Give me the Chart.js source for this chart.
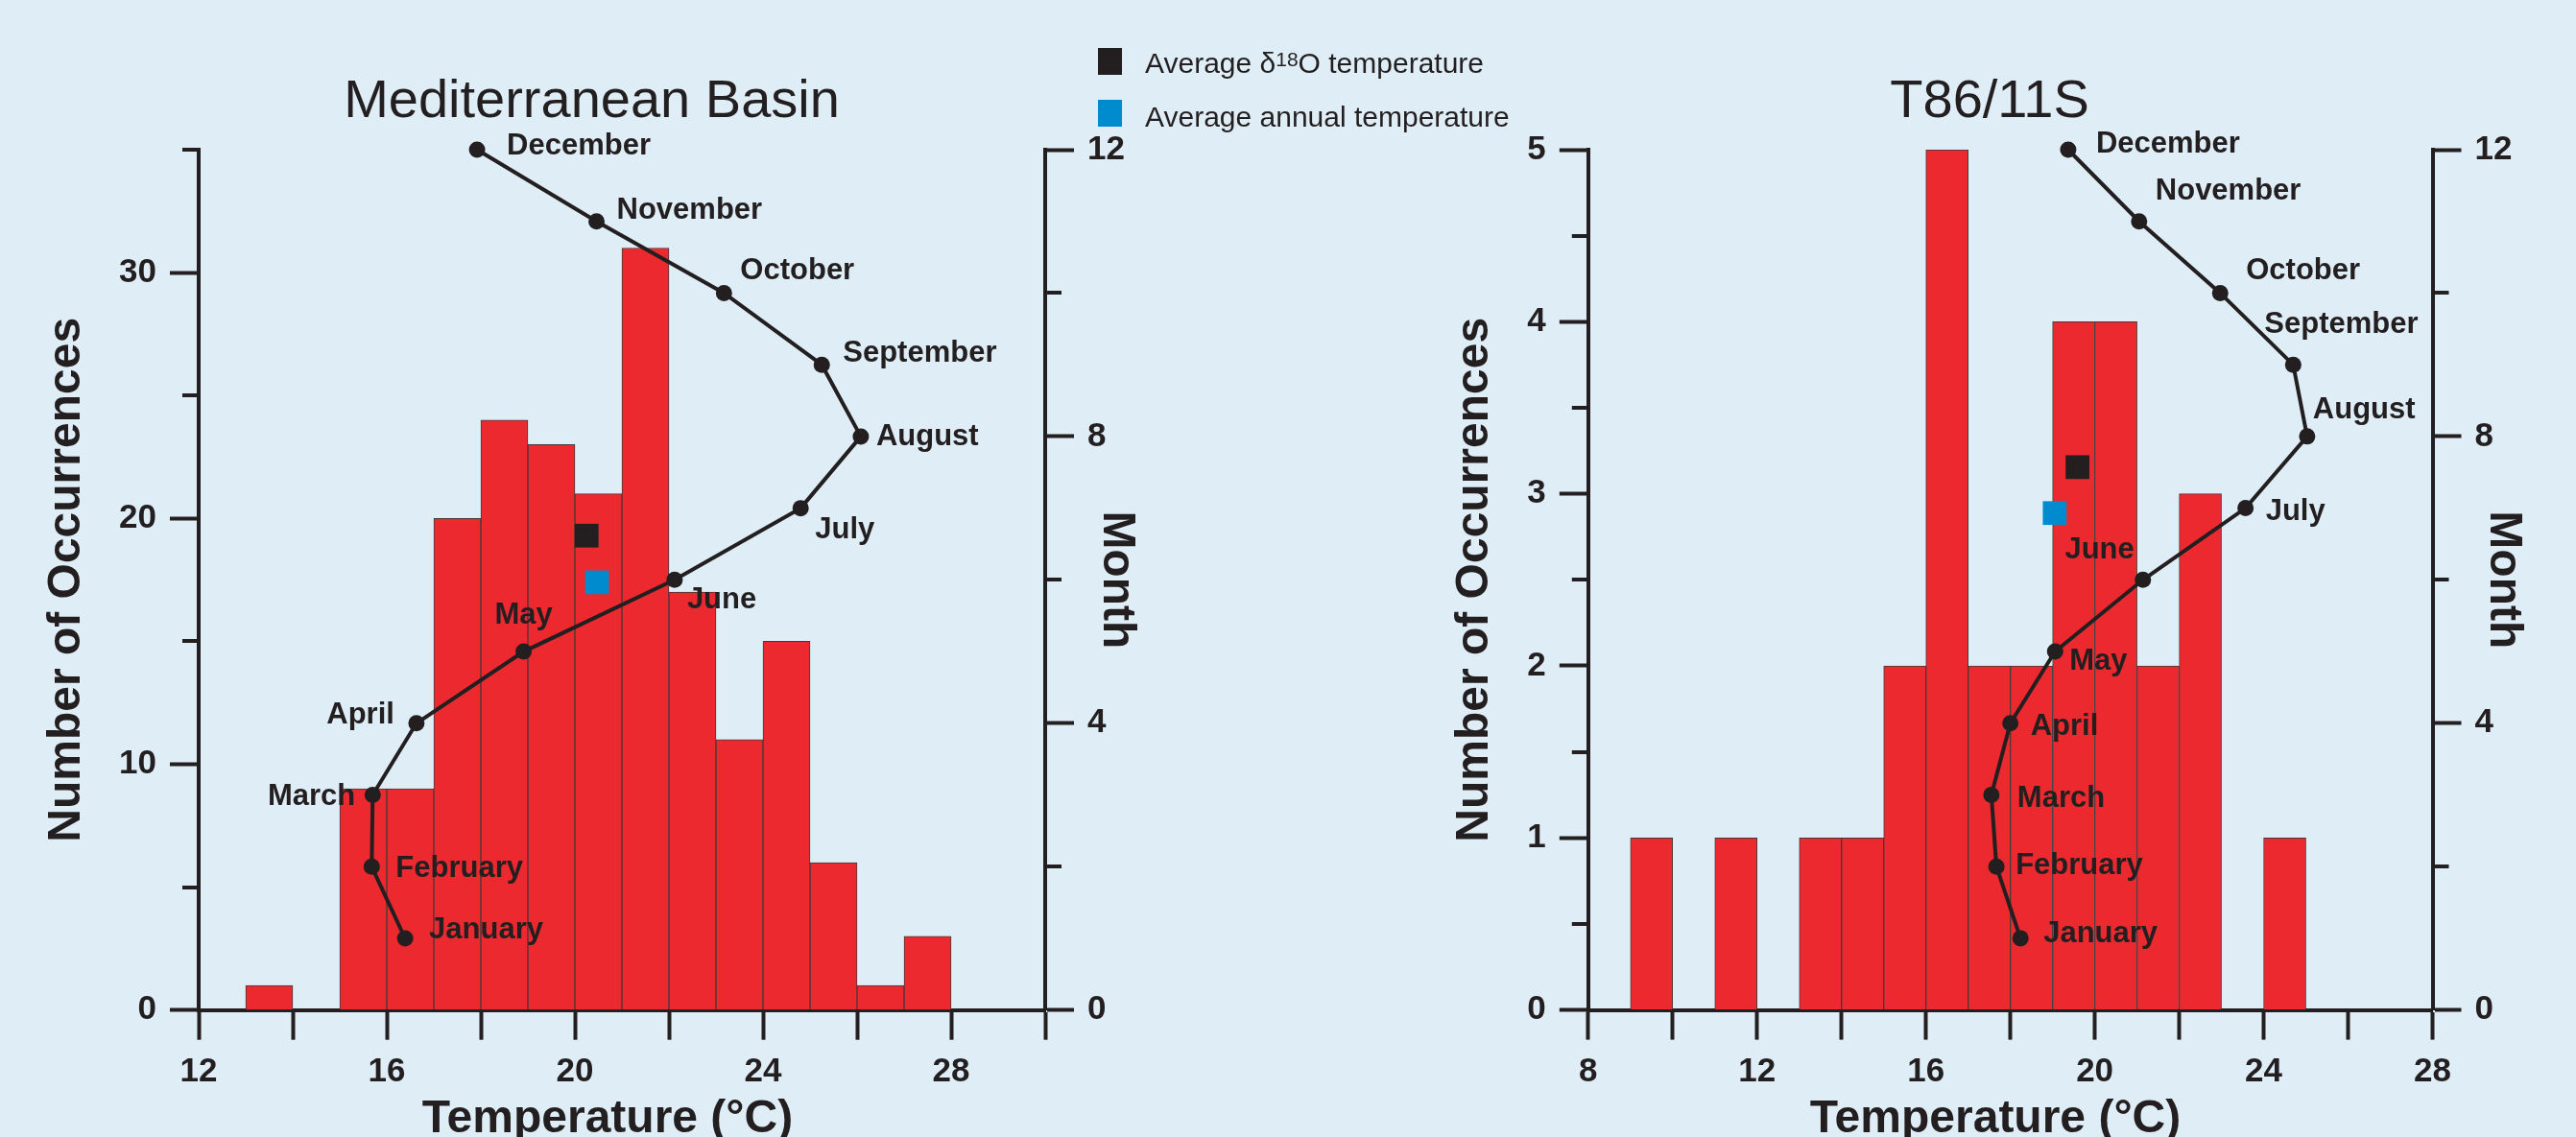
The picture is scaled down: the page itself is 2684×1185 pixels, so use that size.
<!DOCTYPE html>
<html>
<head>
<meta charset="utf-8">
<title>Temperature distributions - Mediterranean Basin and T86/11S</title>
<script src="https://cdn.jsdelivr.net/npm/chart.js@4.4.1/dist/chart.umd.min.js"></script>
<style>
    html, body { margin: 0; padding: 0; background: #dfeef6; }
    body {
        position: relative; width: 2684px; height: 1185px; overflow: hidden;
        font-family: "Liberation Sans", Arial, sans-serif; color: #231f20;
    }
    canvas { position: absolute; top: 0; }
    #chart-med { left: 0; }
    #chart-t86 { left: 1342px; }
    .key { position: absolute; width: 25px; height: 28px; }
    .key-text { position: absolute; font-size: 30px; line-height: 30px; white-space: nowrap; }
    .key-text sup { font-size: 21px; line-height: 0; vertical-align: baseline; position: relative; top: -7px; }
</style>
</head>
<body>
<canvas id="chart-med" width="1342" height="1185"></canvas>
<canvas id="chart-t86" width="1342" height="1185"></canvas>

<div class="key" style="left:1144px; top:50px; background:#231f20"></div>
<div class="key-text" style="left:1193px; top:51px">Average &delta;<sup>18</sup>O temperature</div>
<div class="key" style="left:1144px; top:104px; background:#008bce"></div>
<div class="key-text" style="left:1193px; top:107px">Average annual temperature</div>

<script>
// --- Data ---

const months     = ["January", "February", "March", "April", "May", "June",
                    "July", "August", "September", "October", "November", "December"];
const monthIndex = [1, 2, 3, 4, 5, 6, 7, 8, 9, 10, 11, 12];

// Mediterranean Basin histogram (1 degree bins, centres)
const medBinCentres  = [13.5, 14.5, 15.5, 16.5, 17.5, 18.5, 19.5, 20.5, 21.5, 22.5, 23.5, 24.5, 25.5, 26.5, 27.5];
const medCounts      = [1, 0, 9, 9, 20, 24, 23, 21, 31, 17, 11, 15, 6, 1, 3];
const medMonthTemps  = [16.39, 15.68, 15.70, 16.63, 18.91, 22.12, 24.80, 26.08, 25.25, 23.17, 20.46, 17.92];
const medD18O        = { x: 20.25, y: 19.3 };
const medAnnual      = { x: 20.47, y: 17.4 };

// T86/11S histogram
const t86BinCentres  = [9.5, 10.5, 11.5, 12.5, 13.5, 14.5, 15.5, 16.5, 17.5, 18.5, 19.5, 20.5, 21.5, 22.5, 23.5, 24.5];
const t86Counts      = [1, 0, 1, 0, 1, 1, 2, 5, 2, 2, 4, 4, 2, 3, 0, 1];
const t86MonthTemps  = [18.24, 17.67, 17.55, 18.00, 19.06, 21.14, 23.57, 25.03, 24.70, 22.97, 21.05, 19.37];
const t86D18O        = { x: 19.59, y: 3.155 };
const t86Annual      = { x: 19.05, y: 2.888 };

// Ticks
const medXTicks   = [12, 14, 16, 18, 20, 22, 24, 26, 28, 30];
const medXLabels  = [12, 16, 20, 24, 28];
const medYTicks   = [0, 10, 20, 30];
const medYMinor   = [5, 15, 25, 35];
const t86XTicks   = [8, 10, 12, 14, 16, 18, 20, 22, 24, 26, 28];
const t86XLabels  = [8, 12, 16, 20, 24, 28];
const t86YTicks   = [0, 1, 2, 3, 4, 5];
const t86YMinor   = [0.5, 1.5, 2.5, 3.5, 4.5];
const monthTicks  = [0, 4, 8, 12];
const monthMinor  = [2, 6, 10];

// --- Style ---

const INK    = "#231f20";
const RED    = "#ec292e";
const BLUE   = "#008bce";
const FAMILY = "'Liberation Sans', Arial, Helvetica, sans-serif";
const W = 1342, H = 1185;

// month label offsets from each point: [dx, dy, textAlign]
const medLabelPos = [
    [25, -9, "left"], [25, 2, "left"], [-18, 2, "right"], [-23, -8, "right"],
    [0, -38, "center"], [13, 21, "left"], [15, 23, "left"], [16, 1, "left"],
    [22, -12, "left"], [17, -23, "left"], [21, -11, "left"], [31, -4, "left"]
];
const t86LabelPos = [
    [24, -4, "left"], [20, -1, "left"], [27, 4, "left"], [21, 4, "left"],
    [15, 10, "left"], [-9, -31, "right"], [21, 4, "left"], [6, -27, "left"],
    [-30, -42, "left"], [27, -23, "left"], [17, -31, "left"], [29, -6, "left"]
];

Chart.defaults.font.family = FAMILY;
Chart.defaults.color = INK;

// --- Overlay: minor ticks, titles, month labels ---

function overlay(p) {
    return {
        id: "overlay",
        afterDraw(chart) {
            const { ctx, chartArea: a, scales } = chart;
            ctx.save();

            ctx.strokeStyle = INK;
            ctx.lineWidth = 4;
            p.minor.forEach(([axisId, values]) => {
                const s    = scales[axisId];
                const edge = s.position === "left" ? s.right : s.left;
                const dir  = s.position === "left" ? -1 : 1;
                values.forEach(v => {
                    const y = Math.round(s.getPixelForValue(v));
                    ctx.beginPath();
                    ctx.moveTo(edge, y);
                    ctx.lineTo(edge + dir * 17, y);
                    ctx.stroke();
                });
            });

            const mid = (a.left + a.right) / 2;
            ctx.fillStyle = INK;
            ctx.textAlign = "center";
            ctx.textBaseline = "alphabetic";
            ctx.font = `56px ${FAMILY}`;
            ctx.fillText(p.title, mid + p.titleShift, 122);
            ctx.font = `bold 48px ${FAMILY}`;
            ctx.fillText("Temperature (\u00b0C)", mid + p.xTitleShift, 1180);

            const pts = chart.getDatasetMeta(2).data;
            ctx.font = `bold 31px ${FAMILY}`;
            ctx.textBaseline = "middle";
            months.forEach((name, i) => {
                const [dx, dy, align] = p.labelPos[i];
                ctx.textAlign = align;
                ctx.fillText(name, pts[i].x + dx, pts[i].y + dy);
            });

            ctx.restore();
        }
    };
}

// --- Chart builder ---

function axisStyle(len) {
    return {
        grid:   { offset: false, drawOnChartArea: false, tickLength: len, tickWidth: 4, tickColor: INK },
        border: { color: INK, width: 4 }
    };
}

function buildChart(id, p) {
    const tickFont = { size: 35, weight: "bold" };
    const titleFont = { size: 48, weight: "bold" };

    return new Chart(document.getElementById(id), {
        type: "bar",
        data: {
            datasets: [
                { type: "scatter", data: [p.d18o], xAxisID: "x", yAxisID: "y", backgroundColor: INK,
                  pointStyle: "rect", pointRadius: 17.5, borderWidth: 0, order: 1, clip: false },
                { type: "scatter", data: [p.annual], xAxisID: "x", yAxisID: "y", backgroundColor: BLUE,
                  pointStyle: "rect", pointRadius: 17.5, borderWidth: 0, order: 1, clip: false },
                { type: "line", data: p.monthTemps.map((t, i) => ({ x: t, y: monthIndex[i] })),
                  xAxisID: "x", yAxisID: "y2", borderColor: INK, borderWidth: 4, tension: 0,
                  pointRadius: 8.5, pointBackgroundColor: INK, pointBorderWidth: 0, order: 2, clip: false },
                { type: "bar", data: p.bins.map((x, i) => ({ x, y: p.counts[i] })),
                  xAxisID: "x", yAxisID: "y", backgroundColor: RED, borderColor: "#45393a",
                  borderWidth: 1, barPercentage: 1, categoryPercentage: 1, order: 3 }
            ]
        },
        options: {
            responsive: false,
            animation: false,
            devicePixelRatio: 1,
            events: [],
            layout: { padding: { top: 156, left: 0, right: 0, bottom: 0 }, autoPadding: false },
            plugins: { legend: { display: false }, tooltip: { enabled: false } },
            scales: {
                x: {
                    type: "linear", min: p.xMin, max: p.xMax, offset: false, z: 1,
                    ...axisStyle(31),
                    afterBuildTicks: s => { s.ticks = p.xTicks.map(v => ({ value: v })); },
                    afterFit: s => { s.height = H - p.area.bottom; },
                    ticks: { autoSkip: false, maxRotation: 0, padding: 13, font: tickFont, color: INK,
                             callback: v => p.xLabels.includes(v) ? String(v) : "" }
                },
                y: {
                    type: "linear", position: "left", min: 0, max: p.yMax, z: 1,
                    ...axisStyle(30),
                    afterBuildTicks: s => { s.ticks = p.yTicks.map(v => ({ value: v })); },
                    afterFit: s => { s.width = p.area.left; },
                    ticks: { padding: 14, font: tickFont, color: INK },
                    title: { display: true, text: "Number of Occurrences", font: titleFont, color: INK,
                             padding: { top: p.yTitlePad, bottom: 0 } }
                },
                y2: {
                    type: "linear", position: "right", min: 0, max: 12, z: 1,
                    ...axisStyle(30),
                    afterBuildTicks: s => { s.ticks = monthTicks.map(v => ({ value: v })); },
                    afterFit: s => { s.width = W - p.area.right; },
                    ticks: { padding: 14, font: tickFont, color: INK },
                    title: { display: true, text: "Month", font: titleFont, color: INK,
                             padding: { top: p.y2TitlePad, bottom: 0 } }
                }
            }
        },
        plugins: [overlay(p)]
    });
}

// --- Start ---

buildChart("chart-med", {
    bins: medBinCentres, counts: medCounts, monthTemps: medMonthTemps,
    d18o: medD18O, annual: medAnnual,
    xMin: 12, xMax: 30, yMax: 35,
    xTicks: medXTicks, xLabels: medXLabels, yTicks: medYTicks,
    minor: [["y", medYMinor], ["y2", monthMinor]],
    area: { left: 207, right: 1089, bottom: 1052.7 },
    yTitlePad: 41, y2TitlePad: 150,
    title: "Mediterranean Basin", titleShift: -31.5, xTitleShift: -15,
    labelPos: medLabelPos
});

buildChart("chart-t86", {
    bins: t86BinCentres, counts: t86Counts, monthTemps: t86MonthTemps,
    d18o: t86D18O, annual: t86Annual,
    xMin: 8, xMax: 28, yMax: 5,
    xTicks: t86XTicks, xLabels: t86XLabels, yTicks: t86YTicks,
    minor: [["y", t86YMinor], ["y2", monthMinor]],
    area: { left: 312.8, right: 1192.5, bottom: 1052.6 },
    yTitlePad: 166, y2TitlePad: 47,
    title: "T86/11S", titleShift: -21.6, xTitleShift: -15.6,
    labelPos: t86LabelPos
});
</script>
</body>
</html>
